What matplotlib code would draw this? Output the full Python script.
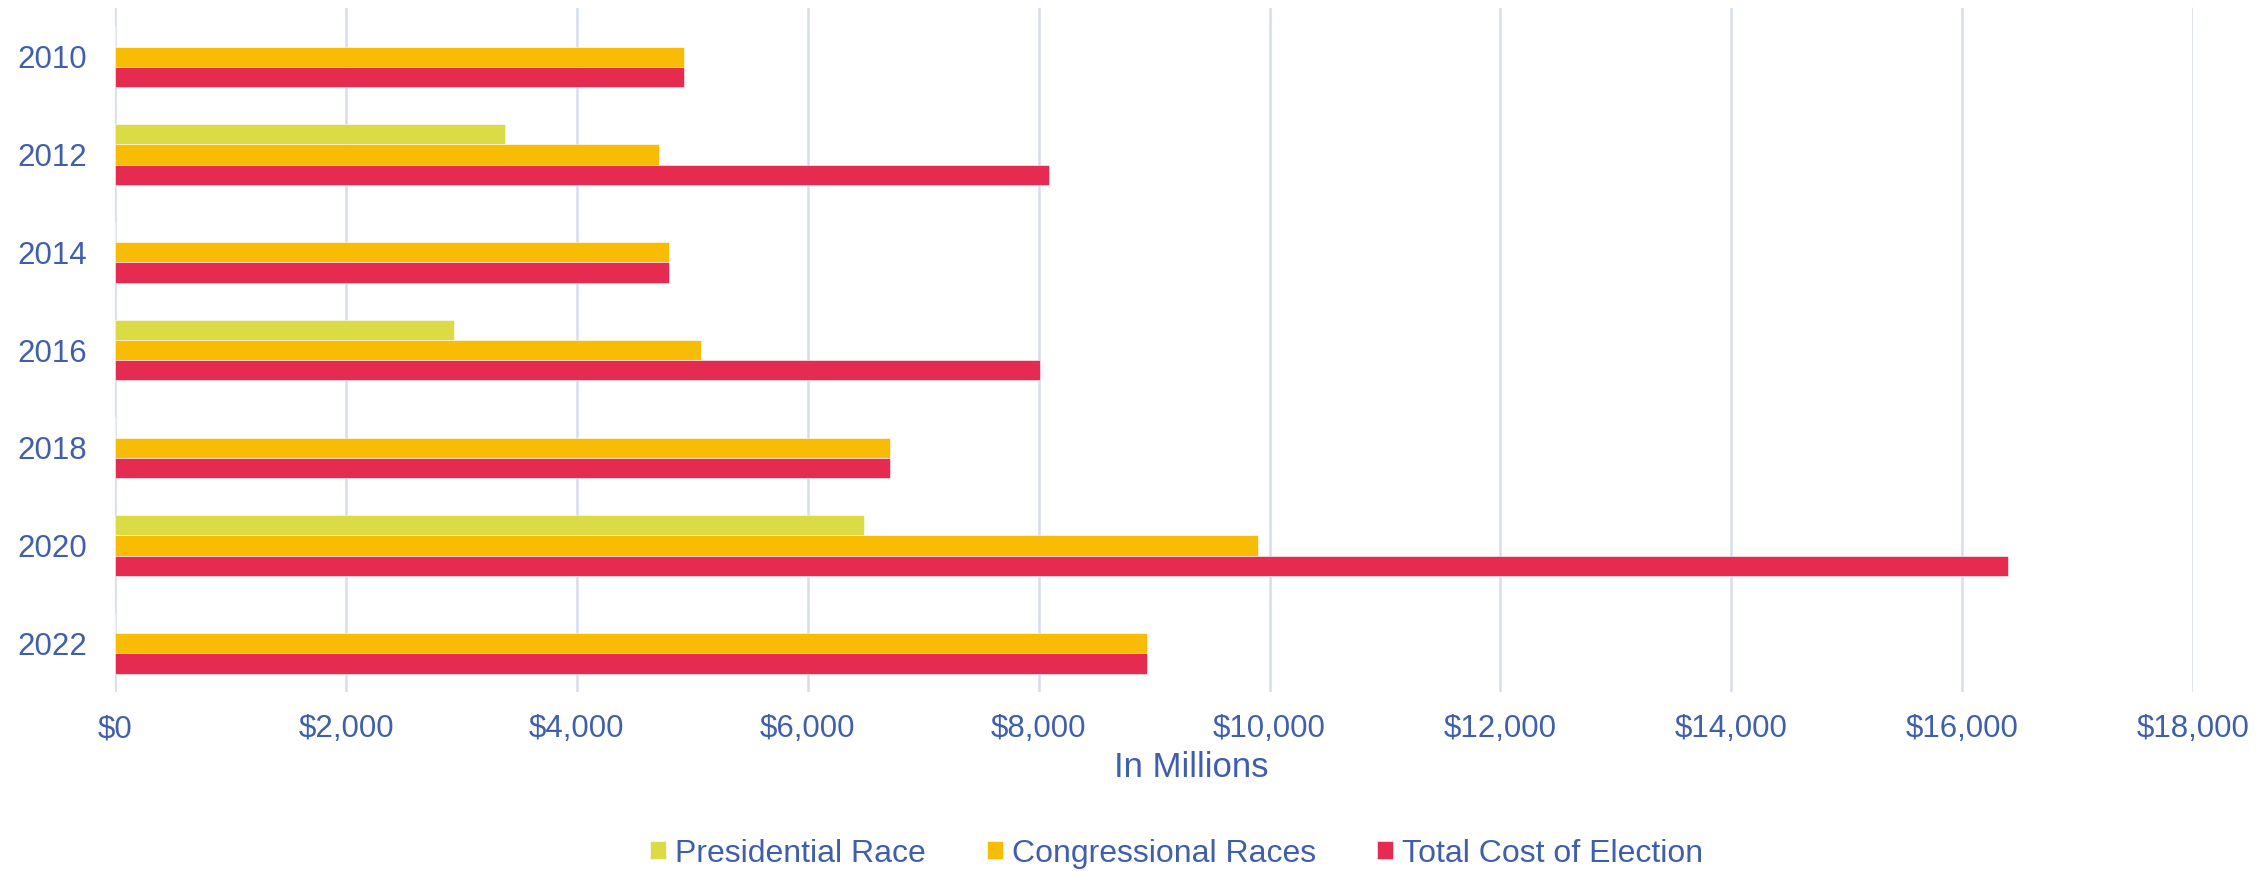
import numpy as np
import matplotlib.pyplot as plt
from matplotlib.ticker import FuncFormatter

years = ['2010', '2012', '2014', '2016', '2018', '2020', '2022']
# cost in millions of dollars (0 where there was no presidential race)
presidential = [0, 3376, 0, 2937, 0, 6490, 0]
congressional = [4924, 4712, 4798, 5077, 6712, 9900, 8934]
total_cost = [4924, 8087, 4798, 8014, 6712, 16395, 8934]

series_names = ['Presidential Race', 'Congressional Races', 'Total Cost of Election']
colors = ['#DADB45', '#F9BC05', '#E52B50']
text_blue = '#3F5FAD'
grid_col = '#D7DDEE'

plt.rcParams['font.family'] = ['Liberation Sans', 'DejaVu Sans']

fig = plt.figure(figsize=(22.67, 8.71), dpi=100)
ax = fig.add_axes([0.0508, 0.2055, 0.9166, 0.7853])

y = np.arange(len(years))
h = 0.208
for i, (vals, name, col) in enumerate(zip([presidential, congressional, total_cost], series_names, colors)):
    ax.barh(y + (i - 1) * h, vals, height=h, color=col, label=name,
            edgecolor='white', linewidth=0.4)

ax.set_ylim(len(years) - 0.5, -0.5)
ax.set_xlim(0, 18000)
ax.set_xticks(np.arange(0, 18001, 2000))
ax.xaxis.set_major_formatter(FuncFormatter(lambda v, p: '${:,.0f}'.format(v)))
ax.set_yticks(y)
ax.set_yticklabels(years)

ax.grid(axis='x', color=grid_col, linewidth=1.8)
ax.set_axisbelow(True)
for s in ax.spines.values():
    s.set_visible(False)
ax.tick_params(axis='both', length=0, labelsize=22.5, labelcolor=text_blue)
ax.tick_params(axis='y', pad=20)
ax.tick_params(axis='x', pad=16)

ax.set_xlabel('In Millions', fontsize=25, color=text_blue, labelpad=5, x=0.518)

fig.legend(loc='center', bbox_to_anchor=(0.519, 0.02), ncol=3, frameon=False,
           fontsize=23, labelcolor=text_blue, handlelength=0.5, handleheight=0.5,
           handletextpad=0.3, columnspacing=1.9)

fig.savefig('out.png', dpi=100)
